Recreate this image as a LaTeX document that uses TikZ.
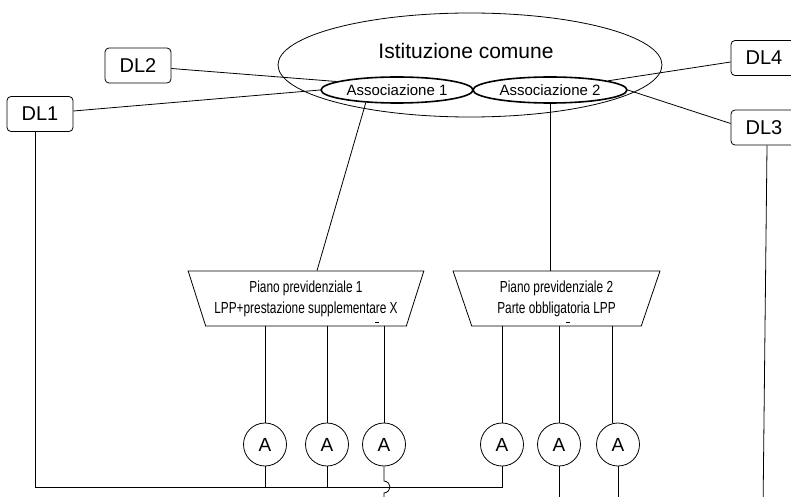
\documentclass[tikz,border=0pt]{standalone}
\usepackage{fontspec}
\setmainfont{Liberation Sans}
\newfontfamily\narrowfont[FakeStretch=0.74]{Liberation Sans}
\usetikzlibrary{shapes.geometric}
\tikzset{
  dlbox/.style={draw,rounded corners=4pt,minimum width=66pt,minimum height=35pt,inner sep=0pt,font=\fontsize{20}{24}\selectfont},
  assoc/.style={draw,ellipse,line width=1.6pt,inner sep=0pt,minimum height=26pt,font=\fontsize{15}{18}\selectfont},
  plan/.style={draw,trapezium,trapezium stretches=true,shape border rotate=180,minimum height=55pt,inner sep=0pt,align=center,font=\narrowfont\fontsize{16}{21}\selectfont},
  membro/.style={draw,circle,minimum size=43pt,inner sep=0pt,font=\fontsize{19}{22}\selectfont}
}

\begin{document}
\begin{tikzpicture}[x=1pt,y=-1pt,line width=0.8pt]
    \useasboundingbox (0,0) rectangle (791,497);
    \node[draw,ellipse,minimum width=384pt,minimum height=104pt] (ist) at (470,65) {};
    \node[font=\fontsize{21}{24}\selectfont] (istname) at (466,51) {Istituzione comune};
    \node[assoc,minimum width=152pt] (assoc1) at (397,90) {Associazione 1};
    \node[assoc,minimum width=154pt] (assoc2) at (550,90) {Associazione 2};
    \node[dlbox] (dl2) at (138,65.5) {DL2};
    \node[dlbox] (dl1) at (40,114) {DL1};
    \node[dlbox] (dl4) at (764,58) {DL4};
    \node[dlbox] (dl3) at (764,127.5) {DL3};
    \draw ([yshift=-3pt]dl2.east) -- (assoc1.172);
    \draw ([yshift=3pt]dl1.east) -- (assoc1.west);
    \draw ([yshift=-4pt]dl4.west) -- (assoc2.9);
    \draw ([yshift=4pt]dl3.west) -- (assoc2.east);
    \node[plan,minimum width=236pt,trapezium left angle=66,trapezium right angle=66] (plan1) at (306,298.5) {Piano previdenziale 1\\LPP+prestazione supplementare X};
    \node[plan,minimum width=207pt,trapezium left angle=70,trapezium right angle=70] (plan2) at (556.5,298.5) {Piano previdenziale 2\\Parte obbligatoria LPP};
    \draw (assoc1.-158) -- ([xshift=11pt]plan1.north);
    \draw (assoc2.south) -- (assoc2.south |- plan2.north);
    \draw (375,322) -- (379,322);
    \draw (566,322) -- (570,322);
    \node[membro] (a1) at (265,444.5) {A};
    \node[membro] (a2) at (327,444.5) {A};
    \node[membro] (a3) at (384,444.5) {A};
    \node[membro] (a4) at (502,444.5) {A};
    \node[membro] (a5) at (559,444.5) {A};
    \node[membro] (a6) at (618,444.5) {A};
    \foreach \m in {a1,a2,a3} \draw (\m.north) -- (\m.north |- plan1.south);
    \draw (a4.north) -- (a4.north |- plan2.south);
    \draw (a5.north) -- (a5.north |- plan2.south);
    \draw ([xshift=-6pt]a6.north) -- ([xshift=-6pt]a6.north |- plan2.south);
    \draw ([xshift=-5pt]dl1.south) |- ([yshift=-21pt]a4.south) -- (a4.south);
    \draw (a1.south) -- ++(0,21);
    \draw (a2.south) -- ++(0,21);
    \draw (a3.south) -- (384,481) .. controls (392,482) and (392,492) .. (384,493) -- (384,510);
    \draw (a5.south) -- ++(0,40);
    \draw (a6.south) -- ++(0,40);
    \draw ([xshift=3pt]dl3.south) -- (763,510);
\end{tikzpicture}
\end{document}
